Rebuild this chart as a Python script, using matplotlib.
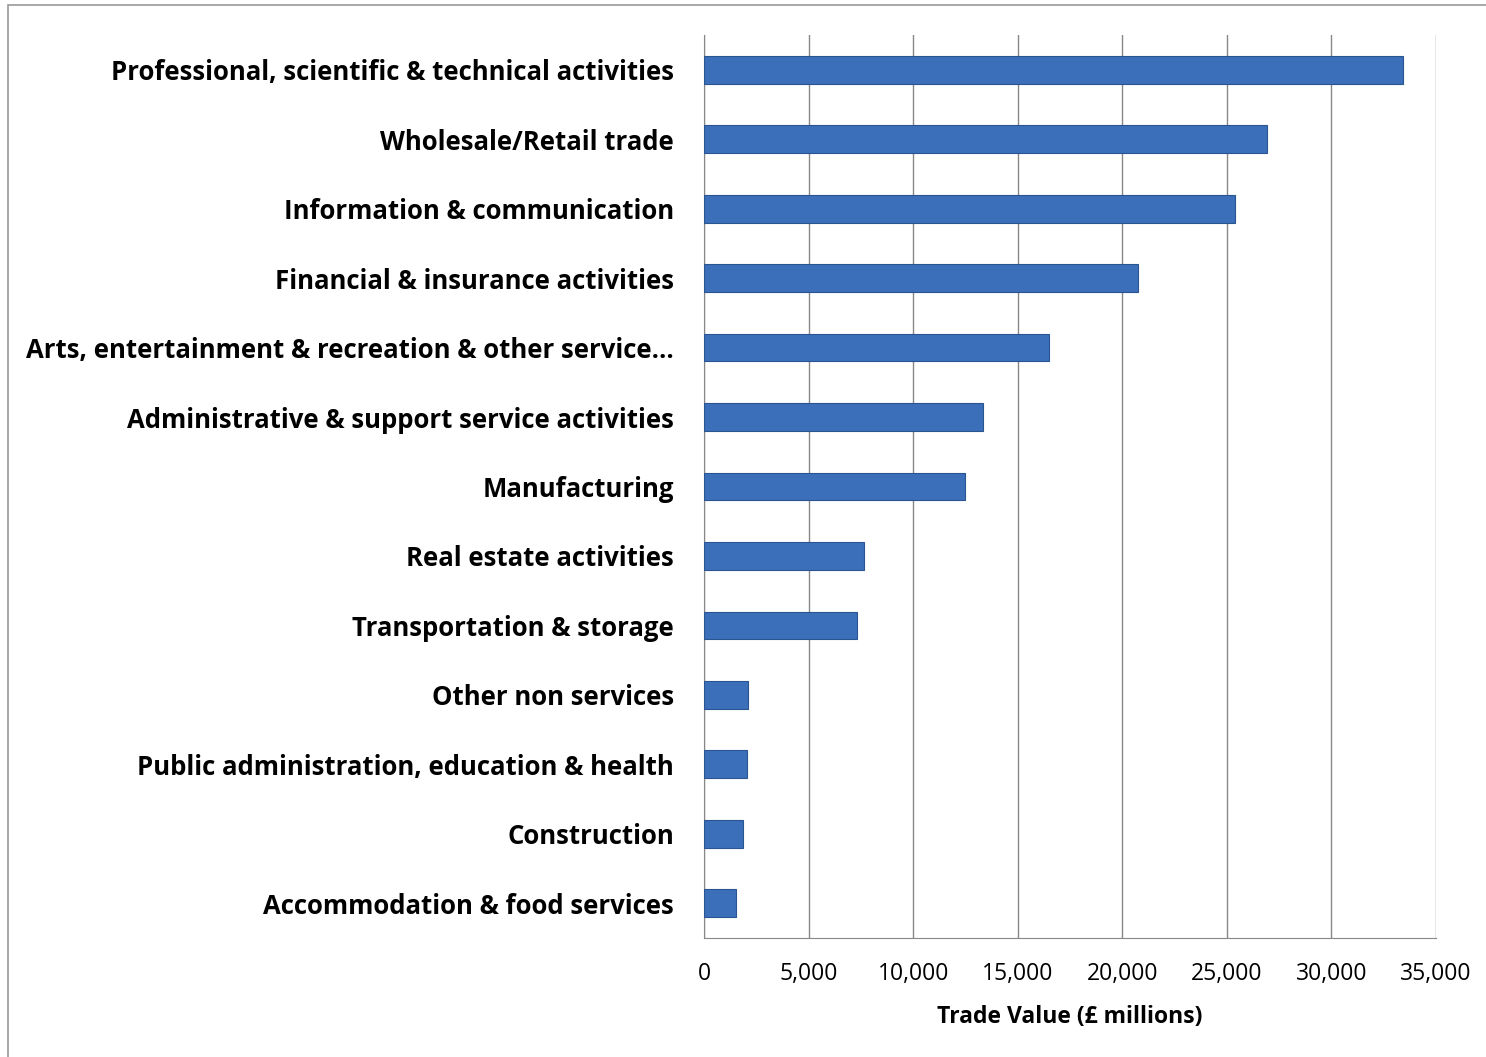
import matplotlib
matplotlib.use("Agg")
import matplotlib.pyplot as plt
from matplotlib.patches import Rectangle

categories = ["Professional, scientific & technical activities", "Wholesale/Retail trade",
              "Information & communication", "Financial & insurance activities",
              "Arts, entertainment & recreation & other service…",
              "Administrative & support service activities", "Manufacturing",
              "Real estate activities", "Transportation & storage", "Other non services",
              "Public administration, education & health", "Construction",
              "Accommodation & food services"]
values = [33400, 26900, 25400, 20750, 16500, 13350, 12480, 7650, 7320, 2100, 2050, 1860, 1530]
xticks = [0, 5000, 10000, 15000, 20000, 25000, 30000, 35000]

plt.rcParams['font.family'] = ['Open Sans', 'DejaVu Sans']
fig = plt.figure(figsize=(14.86, 10.57), dpi=100)
fig.patches.append(Rectangle((8/1486, -0.01), 1.0, 1-5/1057 + 0.01, transform=fig.transFigure,
                             fill=False, edgecolor='#999999', lw=1.2))
ax = fig.add_axes([704/1486, 1-938/1057, 732/1486, 903/1057])
y = list(range(len(categories)))[::-1]
ax.barh(y, values, height=0.4, color='#3b6fba', edgecolor='#2a5590', lw=0.8, zorder=3)
ax.set_xlim(0, 35000)
ax.set_ylim(-0.5, len(categories) - 0.5)
ax.set_xticks(xticks)
ax.set_xticklabels([f"{v:,}" for v in xticks], fontsize=16.5)
ax.set_yticks(y)
ax.set_yticklabels(categories, fontsize=18.5, fontweight='bold')
ax.tick_params(axis='y', length=0, pad=21.5)
ax.tick_params(axis='x', length=0, pad=17)
ax.grid(axis='x', color='#888888', lw=1, zorder=0)
for s in ['top', 'right']:
    ax.spines[s].set_visible(False)
ax.spines['left'].set_color('#888888')
ax.spines['bottom'].set_color('#888888')
ax.set_xlabel("Trade Value (£ millions)", fontsize=16.5, fontweight='bold', labelpad=14)
fig.savefig("out.png", dpi=100)
